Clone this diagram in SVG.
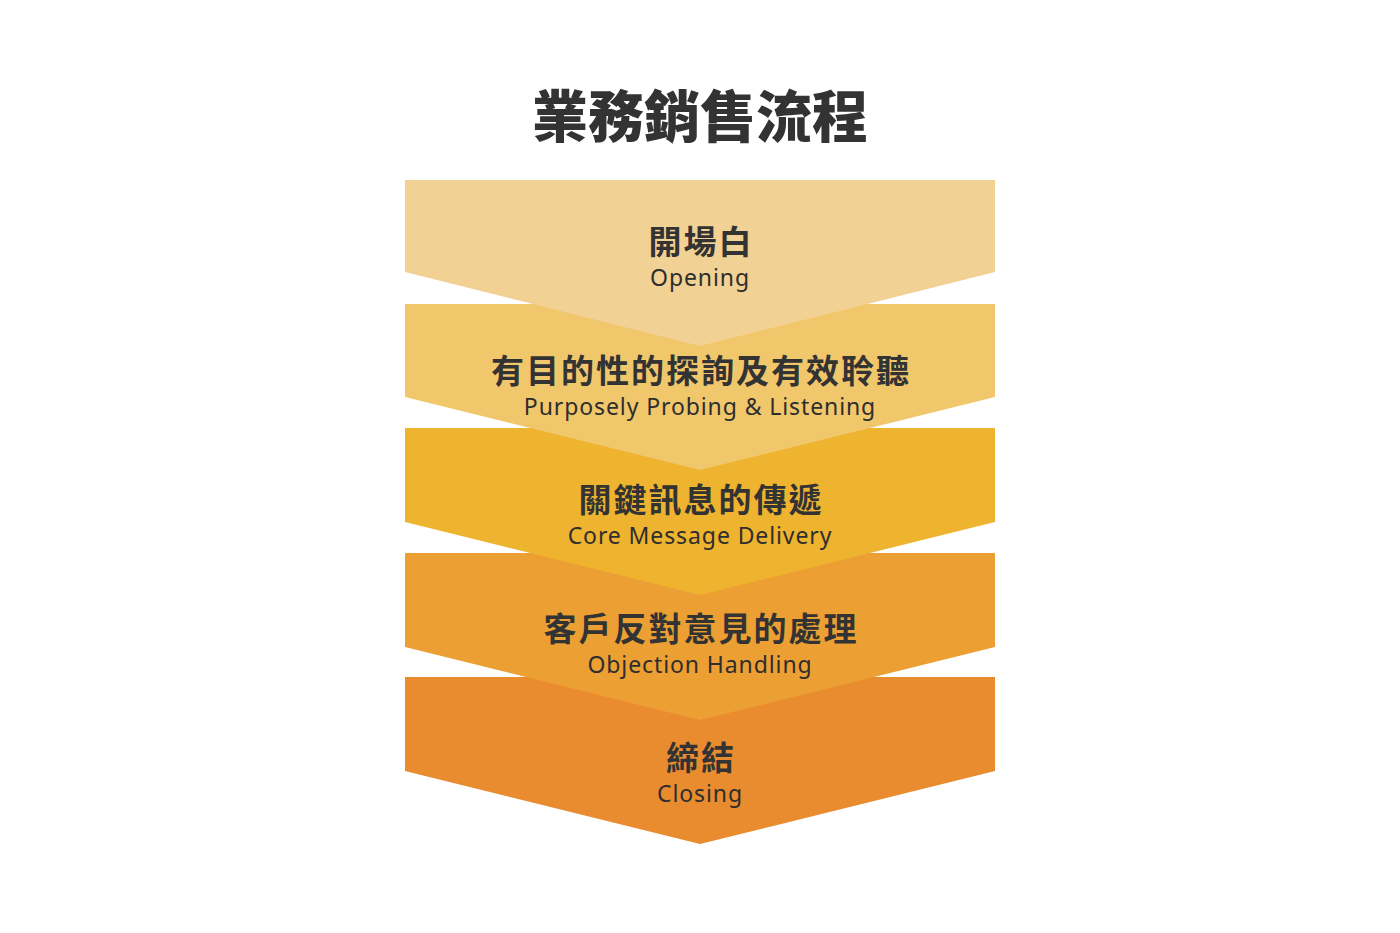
<svg xmlns="http://www.w3.org/2000/svg" width="1400" height="933" viewBox="0 0 1400 933">
<style>
.zh{font-family:"Noto Sans CJK TC","Noto Sans CJK SC",sans-serif;font-weight:700;fill:#333333;text-anchor:middle}
.en{font-family:"Noto Sans","Liberation Sans",sans-serif;font-weight:400;fill:#2e2e2e;text-anchor:middle;font-size:23px;letter-spacing:0.9px}
.t{font-size:56px;font-weight:900}
.l{font-size:33px;letter-spacing:2px}
</style>
<rect width="1400" height="933" fill="#ffffff"/>
<text class="zh t" x="700" y="137">業務銷售流程</text>
<g id="step5"><polygon points="405,677 995,677 995,771 700,844 405,771" fill="#E98B2F"/><text class="zh l" x="701" y="770">締結</text><text class="en" x="700" y="802">Closing</text></g>
<g id="step4"><polygon points="405,553 995,553 995,647 700,720 405,647" fill="#EC9F33"/><text class="zh l" x="701" y="641">客戶反對意見的處理</text><text class="en" x="700" y="673">Objection Handling</text></g>
<g id="step3"><polygon points="405,428 995,428 995,522 700,595 405,522" fill="#EEB32F"/><text class="zh l" x="701" y="512">關鍵訊息的傳遞</text><text class="en" x="700" y="544">Core Message Delivery</text></g>
<g id="step2"><polygon points="405,304 995,304 995,397 700,470 405,397" fill="#F1C76B"/><text class="zh l" x="701" y="383">有目的性的探詢及有效聆聽</text><text class="en" x="700" y="415">Purposely Probing &amp; Listening</text></g>
<g id="step1"><polygon points="405,180 995,180 995,272 700,346 405,272" fill="#F2D194"/><text class="zh l" x="701" y="254">開場白</text><text class="en" x="700" y="286">Opening</text></g>
<g id="connectors"></g>
</svg>
